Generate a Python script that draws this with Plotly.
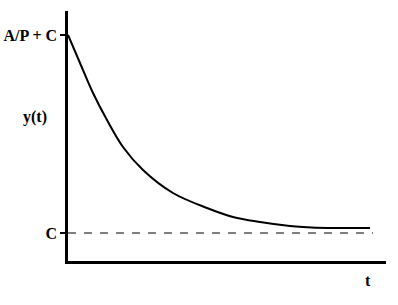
import plotly.graph_objects as go

# Data (arbitrary units)
t_vals = [0, 12, 25, 39, 55, 75, 105, 139, 165, 192, 222, 235, 260, 302]
y_vals = [226, 198, 168, 141, 114, 91, 68, 53, 44, 39, 35, 34, 33, 33]
c_level = 28
top_level = 226
tick_vals = [c_level, top_level]
tick_text = ["C", "A/P + C"]
x_max = 318
y_max = 250

font_family = "'Times New Roman', 'Liberation Serif', 'DejaVu Serif', serif"

W, H = 398, 305
ML, MR, MT, MB = 68, 12, 11, 44
PW, PH = W - ML - MR, H - MT - MB

fig = go.Figure()
fig.add_trace(go.Scatter(x=t_vals, y=y_vals, mode="lines",
                         line=dict(color="black", width=2, shape="spline"),
                         hoverinfo="skip", showlegend=False))
fig.add_trace(go.Scatter(x=[0, 305], y=[c_level, c_level], mode="lines",
                         line=dict(color="#808080", width=2, dash="8px,8px"),
                         hoverinfo="skip", showlegend=False))

fig.update_layout(
    width=W, height=H,
    margin=dict(l=ML, r=MR, t=MT, b=MB, autoexpand=False),
    paper_bgcolor="white", plot_bgcolor="white",
    showlegend=False,
    font=dict(family=font_family, size=16, color="black"),
    xaxis=dict(range=[0, x_max], showgrid=False, zeroline=False,
               showline=True, linecolor="black", linewidth=2.5,
               showticklabels=False, ticks="", automargin=False),
    yaxis=dict(range=[0, y_max], showgrid=False, zeroline=False,
               showline=True, linecolor="black", linewidth=2.5,
               tickvals=tick_vals, ticktext=tick_text, automargin=False,
               ticks="outside", ticklen=5, tickwidth=1.5, tickcolor="black",
               ticklabelstandoff=0,
               tickfont=dict(family=font_family, size=16, color="black", weight="bold")),
    annotations=[
        dict(text="<b>y(t)</b>", xref="paper", yref="paper",
             x=(35 - ML) / PW, y=(H - MB - 117) / PH,
             xanchor="center", yanchor="middle",
             showarrow=False, font=dict(family=font_family, size=16)),
        dict(text="<b>t</b>", xref="paper", yref="paper",
             x=(368 - ML) / PW, y=(H - MB - 280) / PH,
             xanchor="center", yanchor="middle",
             showarrow=False, font=dict(family=font_family, size=16)),
    ],
)

fig.write_html("out.html")
